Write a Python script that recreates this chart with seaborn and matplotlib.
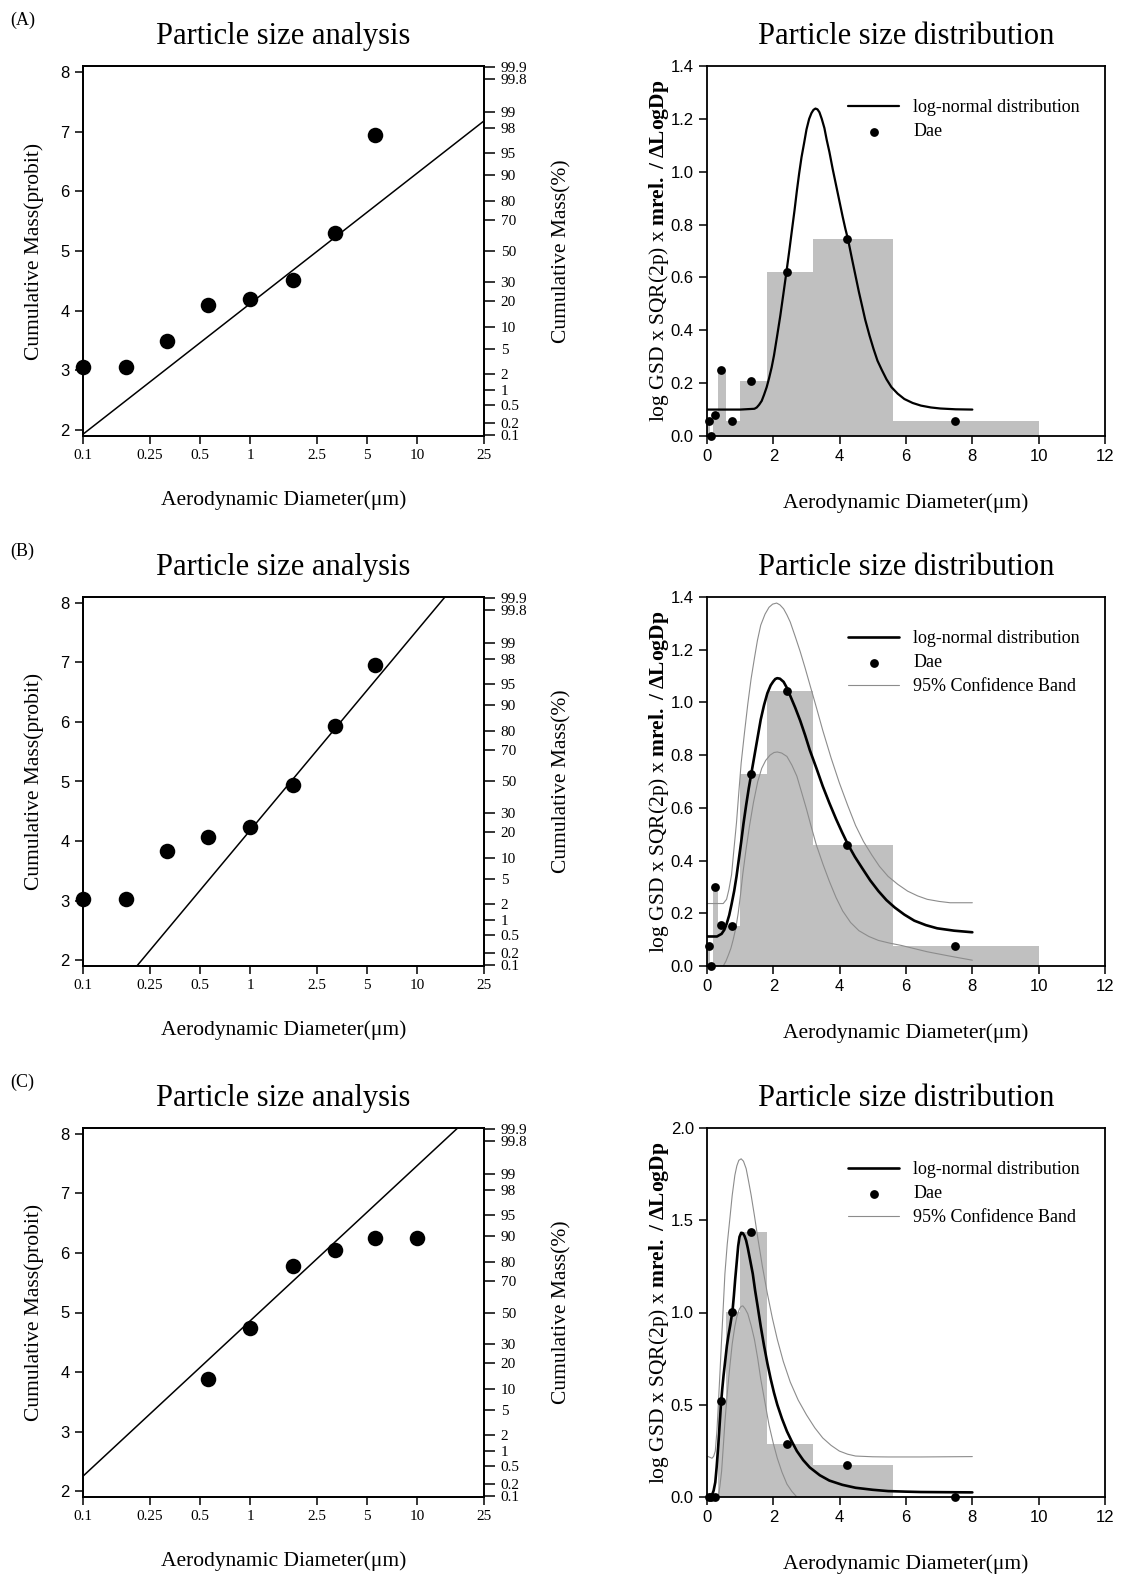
import statistics

import matplotlib
matplotlib.use("Agg")
import matplotlib.pyplot as plt
from matplotlib.ticker import NullLocator
import seaborn as sns

SERIF = "Liberation Serif"
SANS = "Liberation Sans"

# ---- left column: probit plots ----
LOG_TICKS = [0.1, 0.25, 0.5, 1, 2.5, 5, 10, 25]
LOG_TICK_LABELS = ["0.1", "0.25", "0.5", "1", "2.5", "5", "10", "25"]
PROBIT_TICKS = [2, 3, 4, 5, 6, 7, 8]
PCT_TICKS = [99.9, 99.8, 99, 98, 95, 90, 80, 70, 50, 30, 20, 10, 5, 2, 1, 0.5, 0.2, 0.1]
PCT_LABELS = ["99.9", "99.8", "99", "98", "95", "90", "80", "70", "50",
              "30", "20", "10", "5", "2", "1", "0.5", "0.2", "0.1"]

CUT_X_A = [0.1, 0.18, 0.32, 0.56, 1.0, 1.8, 3.2, 5.6]
PROBIT_A = [3.06, 3.06, 3.49, 4.10, 4.20, 4.52, 5.30, 6.94]
FIT_X_A = [0.1, 25.0]
FIT_Y_A = [1.93, 7.18]

CUT_X_B = [0.1, 0.18, 0.32, 0.56, 1.0, 1.8, 3.2, 5.6]
PROBIT_B = [3.03, 3.03, 3.84, 4.06, 4.24, 4.94, 5.94, 6.96]
FIT_X_B = [0.21, 14.6]
FIT_Y_B = [1.90, 8.10]

CUT_X_C = [0.56, 1.0, 1.8, 3.2, 5.6, 10.0]
PROBIT_C = [3.89, 4.74, 5.78, 6.05, 6.26, 6.26]
FIT_X_C = [0.1, 17.4]
FIT_Y_C = [2.25, 8.10]

# ---- right column: size distributions ----
BIN_EDGES = [0.0, 0.1, 0.18, 0.32, 0.56, 1.0, 1.8, 3.2, 5.6, 10.0]
DAE_X = [0.06, 0.13, 0.24, 0.42, 0.75, 1.34, 2.4, 4.23, 7.48]
DAE_A = [0.055, 0.0, 0.08, 0.25, 0.055, 0.21, 0.62, 0.745, 0.055]
DAE_B = [0.075, 0.0, 0.30, 0.155, 0.15, 0.73, 1.045, 0.46, 0.075]
DAE_C = [0.0, 0.0, 0.0, 0.52, 1.005, 1.435, 0.285, 0.175, 0.0]

LOGN_X_A = [0.0, 0.5, 1.0, 1.43, 1.5, 1.57, 1.65, 1.72, 1.8, 1.87, 1.95, 2.02, 2.11,
            2.21, 2.3, 2.39, 2.48, 2.56, 2.64, 2.71, 2.78, 2.85, 2.93, 3.0, 3.08, 3.15,
            3.21, 3.27, 3.33, 3.39, 3.46, 3.54, 3.61, 3.69, 3.79, 3.89, 3.99, 4.09,
            4.17, 4.25, 4.38, 4.48, 4.58, 4.68, 4.77, 4.9, 5.02, 5.14, 5.27, 5.41,
            5.56, 5.75, 5.95, 6.2, 6.45, 6.75, 7.04, 7.5, 8.0]
LOGN_Y_A = [0.10, 0.10, 0.10, 0.103, 0.108, 0.118, 0.133, 0.156, 0.185, 0.218, 0.26,
            0.305, 0.375, 0.455, 0.535, 0.616, 0.70, 0.778, 0.855, 0.928, 0.995, 1.055,
            1.11, 1.16, 1.20, 1.222, 1.234, 1.239, 1.236, 1.225, 1.20, 1.165, 1.12,
            1.075, 1.01, 0.95, 0.89, 0.83, 0.785, 0.745, 0.665, 0.605, 0.545, 0.49,
            0.44, 0.38, 0.33, 0.285, 0.25, 0.215, 0.185, 0.16, 0.14, 0.125, 0.115,
            0.108, 0.104, 0.101, 0.10]

LOGN_X_B = [0.0, 0.3, 0.44, 0.52, 0.59, 0.67, 0.74, 0.82, 0.89, 0.96, 1.03, 1.1, 1.18,
            1.26, 1.35, 1.44, 1.53, 1.62, 1.72, 1.82, 1.92, 2.0, 2.06, 2.12, 2.2, 2.31,
            2.41, 2.51, 2.66, 2.81, 2.96, 3.1, 3.3, 3.49, 3.69, 3.89, 4.07, 4.25, 4.46,
            4.68, 4.92, 5.17, 5.41, 5.66, 5.95, 6.25, 6.6, 6.94, 7.45, 8.0]
LOGN_Y_B = [0.112, 0.112, 0.122, 0.137, 0.159, 0.193, 0.234, 0.285, 0.34, 0.405, 0.47,
            0.54, 0.61, 0.675, 0.74, 0.805, 0.87, 0.935, 0.99, 1.035, 1.065, 1.08,
            1.089, 1.092, 1.09, 1.078, 1.055, 1.025, 0.98, 0.931, 0.875, 0.819, 0.75,
            0.682, 0.618, 0.558, 0.508, 0.461, 0.414, 0.371, 0.325, 0.284, 0.25, 0.222,
            0.195, 0.172, 0.155, 0.143, 0.134, 0.128]
UPPER_X_B = [0.0, 0.49, 0.59, 0.66, 0.74, 0.81, 0.89, 0.96, 1.03, 1.13, 1.23, 1.33,
             1.43, 1.52, 1.62, 1.75, 1.87, 1.98, 2.1, 2.2, 2.31, 2.41, 2.51, 2.66, 2.81,
             2.96, 3.1, 3.3, 3.49, 3.74, 3.99, 4.24, 4.48, 4.72, 4.97, 5.2, 5.46, 5.75,
             6.05, 6.35, 6.64, 7.0, 7.33, 8.0]
UPPER_Y_B = [0.237, 0.237, 0.253, 0.29, 0.346, 0.44, 0.545, 0.66, 0.77, 0.885, 0.994,
             1.09, 1.168, 1.235, 1.293, 1.335, 1.361, 1.373, 1.377, 1.37, 1.355, 1.332,
             1.305, 1.25, 1.193, 1.13, 1.068, 0.98, 0.894, 0.79, 0.695, 0.61, 0.533,
             0.472, 0.421, 0.378, 0.34, 0.31, 0.284, 0.266, 0.253, 0.245, 0.24, 0.24]
LOWER_X_B = [0.49, 0.57, 0.64, 0.72, 0.79, 0.87, 0.94, 1.01, 1.08, 1.18, 1.28, 1.4,
             1.53, 1.65, 1.77, 1.9, 2.02, 2.12, 2.25, 2.41, 2.56, 2.71, 2.85, 3.0,
             3.15, 3.3, 3.5, 3.69, 3.89, 4.09, 4.33, 4.58, 4.88, 5.17, 5.5, 5.86, 6.25,
             6.64, 7.3, 8.0]
LOWER_Y_B = [0.0, 0.018, 0.04, 0.067, 0.1, 0.145, 0.2, 0.27, 0.35, 0.445, 0.53, 0.62,
             0.70, 0.75, 0.78, 0.80, 0.81, 0.812, 0.808, 0.795, 0.762, 0.72, 0.66,
             0.595, 0.525, 0.458, 0.385, 0.321, 0.26, 0.209, 0.165, 0.134, 0.112, 0.097,
             0.087, 0.078, 0.066, 0.054, 0.038, 0.022]

LOGN_X_C = [0.0, 0.15, 0.2, 0.25, 0.29, 0.34, 0.38, 0.42, 0.46, 0.5, 0.55, 0.6, 0.65,
            0.7, 0.77, 0.81, 0.85, 0.9, 0.94, 0.98, 1.03, 1.08, 1.13, 1.18, 1.23, 1.3,
            1.38, 1.45, 1.53, 1.62, 1.72, 1.82, 1.92, 2.02, 2.12, 2.26, 2.41, 2.56,
            2.71, 2.9, 3.1, 3.4, 3.69, 4.08, 4.48, 5.0, 5.46, 6.0, 6.45, 7.2, 8.0]
LOGN_Y_C = [0.0, 0.01, 0.035, 0.08, 0.16, 0.28, 0.39, 0.5, 0.585, 0.66, 0.74, 0.82,
            0.88, 0.93, 1.01, 1.09, 1.18, 1.28, 1.36, 1.41, 1.432, 1.43, 1.415, 1.39,
            1.35, 1.285, 1.21, 1.12, 1.03, 0.925, 0.82, 0.725, 0.64, 0.565, 0.50,
            0.425, 0.356, 0.3, 0.249, 0.2, 0.16, 0.118, 0.089, 0.066, 0.05, 0.039,
            0.032, 0.029, 0.027, 0.026, 0.025]
UPPER_X_C = [0.0, 0.15, 0.2, 0.25, 0.3, 0.34, 0.39, 0.44, 0.49, 0.54, 0.61, 0.69, 0.76,
             0.84, 0.9, 0.96, 1.03, 1.1, 1.18, 1.25, 1.33, 1.43, 1.53, 1.67, 1.82, 1.97,
             2.12, 2.3, 2.51, 2.75, 3.0, 3.25, 3.49, 3.74, 3.99, 4.24, 4.48, 5.0, 5.46,
             6.45, 8.0]
UPPER_Y_C = [0.222, 0.21, 0.22, 0.249, 0.36, 0.498, 0.67, 0.854, 1.03, 1.21, 1.37,
             1.51, 1.635, 1.744, 1.795, 1.825, 1.833, 1.82, 1.78, 1.715, 1.637, 1.525,
             1.406, 1.25, 1.103, 0.97, 0.854, 0.735, 0.623, 0.525, 0.445, 0.375, 0.32,
             0.28, 0.249, 0.232, 0.222, 0.218, 0.217, 0.217, 0.219]
LOWER_X_C = [0.34, 0.39, 0.44, 0.49, 0.54, 0.61, 0.69, 0.76, 0.84, 0.91, 0.98, 1.03,
             1.08, 1.15, 1.23, 1.33, 1.43, 1.53, 1.62, 1.75, 1.87, 2.0, 2.12, 2.26,
             2.41, 2.56, 2.71]
LOWER_Y_C = [0.0, 0.06, 0.139, 0.27, 0.406, 0.56, 0.71, 0.83, 0.925, 0.985, 1.02, 1.033,
             1.036, 1.02, 0.993, 0.93, 0.854, 0.75, 0.64, 0.51, 0.39, 0.29, 0.21, 0.135,
             0.07, 0.03, 0.0]

LEGEND_ORDER = ["log-normal distribution", "Dae", "95% Confidence Band"]

sns.set_style("ticks")
plt.rcParams["font.family"] = [SERIF, "DejaVu Serif"]
plt.rcParams["mathtext.fontset"] = "custom"
plt.rcParams["mathtext.rm"] = SERIF
plt.rcParams["mathtext.bf"] = SERIF + ":bold"
plt.rcParams["mathtext.it"] = SERIF + ":italic"
plt.rcParams["axes.linewidth"] = 1.3
for key in ["text.color", "axes.labelcolor", "axes.edgecolor", "xtick.color", "ytick.color"]:
    plt.rcParams[key] = "black"

W, H = 1136, 1596
fig = plt.figure(figsize=(W / 100, H / 100), dpi=100)


def axes_px(left, top, right, bottom):
    return fig.add_axes([left / W, 1 - bottom / H, (right - left) / W, (bottom - top) / H])


def style_ticks(ax):
    ax.tick_params(direction="out", length=6, width=1.1, top=False, right=False)


def probit_panel(ax, xs, ys, fit_x, fit_y):
    ax.set_xscale("log")
    sns.lineplot(x=fit_x, y=fit_y, ax=ax, color="black", lw=1.1, estimator=None, sort=False)
    sns.scatterplot(x=xs, y=ys, ax=ax, color="black", s=125, linewidth=0, zorder=5,
                    clip_on=False)
    ax.set_xlim(0.1, 25)
    ax.set_ylim(1.9, 8.1)
    ax.set_xticks(LOG_TICKS)
    ax.set_xticklabels(LOG_TICK_LABELS, fontfamily=SERIF, fontsize=11)
    ax.xaxis.set_minor_locator(NullLocator())
    ax.set_yticks(PROBIT_TICKS)
    ax.set_yticklabels([str(t) for t in PROBIT_TICKS], fontfamily=SANS, fontsize=12)
    style_ticks(ax)
    ax.set_xlabel("Aerodynamic Diameter(\u03bcm)", fontsize=15.5, labelpad=20)
    ax.set_ylabel("Cumulative Mass(probit)", fontsize=15.5, labelpad=12)
    ax.set_title("Particle size analysis", fontsize=22, pad=16)

    ax2 = ax.twinx()
    ax2.set_ylim(1.9, 8.1)
    nd = statistics.NormalDist()
    ax2.set_yticks([5 + nd.inv_cdf(p / 100) for p in PCT_TICKS])
    ax2.set_yticklabels(PCT_LABELS, fontfamily=SERIF, fontsize=11)
    ax2.tick_params(direction="out", length=8, width=1.1, pad=4)
    ax2.set_ylabel("Cumulative Mass(%)", fontsize=15.5, labelpad=18)


def dist_panel(ax, heights, lx, ly, ymax, yticks, ytick_labels, lw, band=None):
    sns.histplot(x=DAE_X, weights=heights, bins=BIN_EDGES, ax=ax, color="#c0c0c0",
                 alpha=1, edgecolor="none", linewidth=0)
    sns.lineplot(x=lx, y=ly, ax=ax, color="black", lw=lw, estimator=None, sort=False,
                 label="log-normal distribution")
    if band is not None:
        ux, uy, dx, dy = band
        sns.lineplot(x=ux, y=uy, ax=ax, color="#8c8c8c", lw=0.8, estimator=None,
                     sort=False, label="95% Confidence Band")
        sns.lineplot(x=dx, y=dy, ax=ax, color="#8c8c8c", lw=0.8, estimator=None,
                     sort=False)
    sns.scatterplot(x=DAE_X, y=heights, ax=ax, color="black", s=40, linewidth=0,
                    zorder=5, clip_on=False, label="Dae")
    ax.set_xlim(0, 12)
    ax.set_ylim(0, ymax)
    ax.set_xticks(range(0, 13, 2))
    ax.set_xticklabels([str(t) for t in range(0, 13, 2)], fontfamily=SANS, fontsize=12)
    ax.set_yticks(yticks)
    ax.set_yticklabels(ytick_labels, fontfamily=SANS, fontsize=12)
    style_ticks(ax)
    ax.set_xlabel("Aerodynamic Diameter(\u03bcm)", fontsize=15.5, labelpad=21)
    ax.set_ylabel(r"log GSD x SQR(2p) x $\mathbf{mrel.\ /\ \Delta LogDp}$",
                  fontsize=15.5, labelpad=0)
    ax.set_title("Particle size distribution", fontsize=22, pad=16)

    handles, labels = ax.get_legend_handles_labels()
    lookup = dict(zip(labels, handles))
    order = [k for k in LEGEND_ORDER if k in lookup]
    ax.legend([lookup[k] for k in order], order, loc="upper right",
              bbox_to_anchor=(0.955, 0.93), frameon=False,
              prop={"family": SERIF, "size": 13}, handlelength=2.8,
              handletextpad=0.8, labelspacing=0.4, borderaxespad=0)


rows = [(66, 436), (597, 966), (1128, 1497)]
letters = ["(A)", "(B)", "(C)"]

left_data = [(CUT_X_A, PROBIT_A, FIT_X_A, FIT_Y_A),
             (CUT_X_B, PROBIT_B, FIT_X_B, FIT_Y_B),
             (CUT_X_C, PROBIT_C, FIT_X_C, FIT_Y_C)]

tick14 = [0.0, 0.2, 0.4, 0.6, 0.8, 1.0, 1.2, 1.4]
tick20 = [0.0, 0.5, 1.0, 1.5, 2.0]
right_data = [
    (DAE_A, LOGN_X_A, LOGN_Y_A, 1.4, tick14, 1.6, None),
    (DAE_B, LOGN_X_B, LOGN_Y_B, 1.4, tick14, 1.9, (UPPER_X_B, UPPER_Y_B, LOWER_X_B, LOWER_Y_B)),
    (DAE_C, LOGN_X_C, LOGN_Y_C, 2.0, tick20, 1.9, (UPPER_X_C, UPPER_Y_C, LOWER_X_C, LOWER_Y_C)),
]

for (top, bottom), letter, ld, rd in zip(rows, letters, left_data, right_data):
    axl = axes_px(83, top, 484, bottom)
    probit_panel(axl, *ld)
    axr = axes_px(707, top, 1105, bottom)
    heights, lx, ly, ymax, yt, lw, band = rd
    dist_panel(axr, heights, lx, ly, ymax, yt, [f"{t:.1f}" for t in yt], lw, band)
    fig.text(10 / W, 1 - (top - 46) / H, letter, fontsize=13, va="center", ha="left")

fig.savefig("out.png", dpi=100)
